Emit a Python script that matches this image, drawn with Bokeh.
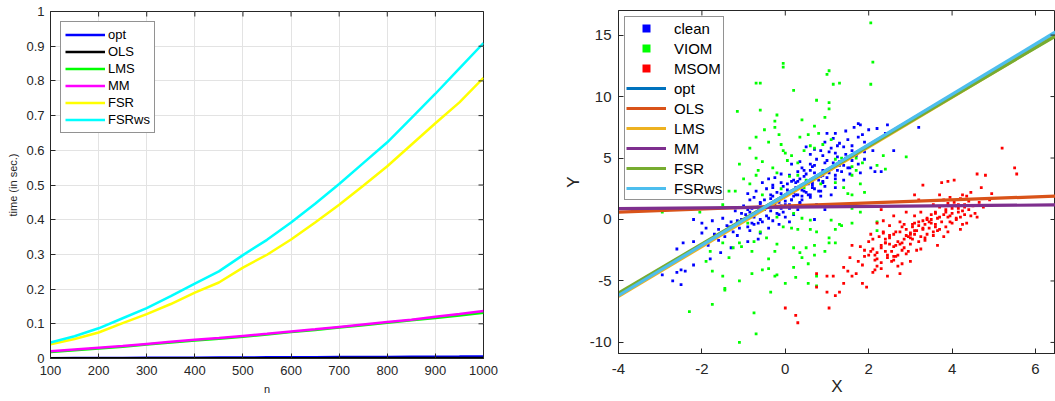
import math
from bokeh.plotting import figure
from bokeh.layouts import row, column
from bokeh.models import FixedTicker, Legend, LegendItem, Range1d
from bokeh.embed import file_html
from bokeh.resources import INLINE

# ---------------- Left chart data (timing) ----------------
n_vals = [100, 150, 200, 250, 300, 350, 400, 450, 500, 550, 600, 650, 700, 750, 800, 850, 900, 950, 1000]
t_opt = [0.001, 0.0013, 0.0015, 0.0018, 0.002, 0.0023, 0.0025, 0.0028, 0.003, 0.0033, 0.0035, 0.0038, 0.004, 0.0043, 0.0046, 0.005, 0.0053, 0.0056, 0.006]
t_ols = [0.0005, 0.0005, 0.0006, 0.0006, 0.0007, 0.0007, 0.0008, 0.0008, 0.0009, 0.0009, 0.001, 0.001, 0.0011, 0.0011, 0.0012, 0.0012, 0.0013, 0.0013, 0.0014]
t_lms = [0.019, 0.024, 0.029, 0.034, 0.040, 0.046, 0.052, 0.057, 0.063, 0.069, 0.076, 0.082, 0.089, 0.096, 0.103, 0.110, 0.117, 0.124, 0.132]
t_mm = [0.021, 0.026, 0.031, 0.036, 0.042, 0.048, 0.054, 0.059, 0.065, 0.071, 0.078, 0.084, 0.091, 0.098, 0.105, 0.112, 0.120, 0.128, 0.137]
t_fsr = [0.041, 0.056, 0.075, 0.102, 0.128, 0.157, 0.190, 0.219, 0.262, 0.299, 0.343, 0.392, 0.443, 0.498, 0.554, 0.616, 0.678, 0.738, 0.809]
t_fsrws = [0.046, 0.064, 0.087, 0.116, 0.145, 0.180, 0.216, 0.251, 0.298, 0.342, 0.392, 0.446, 0.503, 0.563, 0.623, 0.693, 0.763, 0.836, 0.909]
left_names = ["opt", "OLS", "LMS", "MM", "FSR", "FSRws"]
left_colors = ["#0000ff", "#000000", "#00ff00", "#ff00ff", "#ffff00", "#00ffff"]
left_x_ticks = [100, 200, 300, 400, 500, 600, 700, 800, 900, 1000]
left_y_ticks = [0.0, 0.1, 0.2, 0.3, 0.4, 0.5, 0.6, 0.7, 0.8, 0.9, 1.0]
left_y_tick_labels = ["0", "0.1", "0.2", "0.3", "0.4", "0.5", "0.6", "0.7", "0.8", "0.9", "1"]

# ---------------- Right chart data (scatter + fits) ----------------
clean_x = [1.75, 1.8, 1.65, 2.2, 2.0, 2.45, 3.2, 2.6, 2.4, 1.45, 1.2, 1.0, 0.95, 1.15, 1.3, 1.5, 1.75, 1.85, 1.9, 2.0,
           1.6, 1.4, 1.1, 0.85, 0.7, 0.6, 0.5, 0.35, 0.15, 0.4, 0.6, 0.75, 0.9, 1.0, 1.15, 1.25, 1.3, 1.45, 1.6, 1.75,
           1.9, 2.05, 2.15, 1.8, 1.55, 1.35, 1.1, 0.9, 0.7, 0.5, 0.3, 0.1, -0.1, -0.25, -0.4, -0.55, -0.3, -0.1, 0.15, 0.35,
           0.55, 0.8, 1.0, 1.2, 1.4, 0.95, 0.7, 0.45, 0.25, 0.05, -0.2, -0.45, -0.7, -0.9, -0.75, -0.5, -0.3, -0.05, 0.2, 0.4,
           0.6, 0.85, 1.1, 0.75, 0.5, 0.3, 0.1, -0.1, -0.35, -0.6, -0.8, -1.0, -1.2, -0.95, -0.7, -0.45, -0.2, 0.0, 0.2, -0.3,
           -0.55, -0.8, -1.05, -1.3, -1.5, -1.75, -2.0, -2.2, -1.9, -1.6, -1.35, -1.1, -0.85, -0.6, -0.4, -0.15, -0.65, -0.9, -1.15, -1.45,
           -1.7, -2.0, -2.2, -2.45, -1.85, -1.3, -1.55, -2.6, -2.45, -1.8, -2.5, -2.4, -2.6, -2.2, -2.95, -2.7, -2.5, 1.25, 0.4, 0.95,
           0.7, 0.1, -0.05, 0.55, 0.3, -0.15, 1.9, 2.1, 0.6, 1.6, 0.05, 0.25, 0.45, 0.65, 0.85, 1.05, 0.35, 0.15, -0.35, -0.65,
           -0.85, -1.05, 0.2, 0.55, 0.8, 1.3, 1.55, 1.7, 0.9, 1.2, -0.2, 0.0, -0.5, -0.75, -1.25, -1.6, 2.3, 1.05, 0.3, 0.65,
           -0.9, -0.6, -0.35, -0.1, 0.15, 0.4, 0.65, 0.9, 1.15, 1.4, -0.75, -0.5, -0.25, 0.0, 0.25, 0.5, 0.75, 1.0, 1.25, 1.5,
           -1.1, -0.85, -0.6, -0.35, -0.1, 0.15, 0.4, 0.65, 0.9, 1.2, -0.3, -0.05, 0.2, 0.45, 0.7, 0.95, 1.2, 1.45, 1.7, 1.95,
           -1.4, -1.15, -0.9, -0.65, -0.4, -0.15, 0.1, 0.35, 0.6, 0.85]
clean_y = [7.8, 7.7, 7.5, 7.4, 7.3, 7.7, 7.5, 5.6, 7.0, 7.2, 7.0, 7.0, 6.3, 6.6, 6.2, 6.5, 6.7, 6.9, 6.3, 6.0,
           6.0, 5.9, 5.8, 5.6, 5.7, 5.3, 5.9, 4.7, 4.5, 4.2, 4.5, 4.9, 5.2, 4.8, 4.6, 5.1, 4.7, 5.3, 4.8, 4.5,
           4.9, 4.2, 3.9, 3.8, 3.7, 3.9, 4.1, 4.0, 3.8, 3.7, 3.9, 3.6, 3.7, 3.4, 3.3, 3.0, 2.8, 3.0, 3.1, 3.3,
           3.1, 3.2, 3.4, 3.6, 3.2, 2.7, 2.5, 2.3, 2.6, 2.4, 2.2, 2.5, 2.3, 2.1, 1.8, 1.6, 1.9, 1.8, 1.9, 1.6,
           1.8, 1.9, 2.0, 1.2, 1.1, 0.8, 1.2, 0.9, 1.1, 1.3, 0.9, 1.1, 0.7, 0.4, 0.5, 0.3, 0.5, 0.2, 0.4, -0.1,
           -0.2, -0.3, 0.0, -0.2, 0.1, -0.1, -0.3, 0.0, -0.7, -0.8, -0.6, -0.7, -0.9, -1.1, -0.7, -0.4, -1.6, -1.8, -1.3, -1.4,
           -1.2, -1.1, -1.8, -1.9, -2.1, -2.3, -2.7, -2.4, -3.0, -3.2, -4.1, -4.2, -4.3, -3.7, -4.5, -5.0, -5.3, 6.0, 1.9, 0.8,
           0.0, -0.2, 0.6, 2.9, 2.0, 1.4, 5.5, 5.6, 4.0, 5.6, 2.9, 3.0, 4.0, 4.3, 3.5, 5.5, 1.4, 1.6, 2.0, 1.0,
           1.6, 0.5, 2.2, 2.0, 2.3, 4.4, 4.2, 5.3, 3.0, 2.6, 1.0, 1.2, 0.8, -0.4, -1.0, -1.7, 3.9, 3.8, 3.1, 2.8,
           0.8, 1.4, 1.7, 2.1, 2.3, 2.8, 3.0, 3.6, 4.3, 4.4, 0.2, 0.9, 1.3, 1.5, 2.0, 2.2, 3.4, 3.9, 4.0, 4.2,
           -0.3, 0.6, 0.0, 0.7, 1.1, 1.6, 2.4, 2.6, 3.1, 3.3, 2.6, 2.7, 3.2, 3.5, 4.4, 4.6, 5.4, 5.0, 5.2, 5.9,
           -0.5, -0.1, -0.6, -0.3, 0.1, 0.4, 0.9, 1.3, 2.0, 2.3]

viom_x = [2.05, 2.1, 2.05, -0.05, -0.05, -0.7, -0.6, 1.05, 1.0, 1.15, 1.3, 0.2, -1.15, -0.6, 0.75, 1.05, 1.05, 0.95, -0.2, -0.25,
          0.4, -0.5, -0.25, 0.7, -0.15, -0.7, 0.35, 0.55, 0.8, 1.1, -0.4, -0.1, 0.6, -0.85, -0.05, 0.0, 0.15, 0.45, 0.7, -0.7,
          -0.55, -1.1, 0.05, 0.3, 1.2, 1.35, 1.5, 1.6, 1.7, 2.2, 2.35, 2.9, -0.65, -0.7, -0.2, 0.1, 0.3, 1.6, 1.7, 1.2,
          1.8, 0.85, 0.45, -0.85, -1.35, -1.2, -0.1, -0.55, 1.9, 1.5, 1.6, -1.5, -1.9, -2.05, -2.95, -0.7, -0.2, 0.2, 0.4, 0.6,
          1.1, 1.3, 1.2, 0.15, 0.3, 0.6, 0.75, -0.05, -0.6, -1.5, -1.1, -1.05, -0.75, -0.45, -0.2, 0.2, 0.5, 0.7, 0.95, 1.05,
          1.2, 0.4, 0.55, 0.7, -0.25, -0.4, -0.8, -1.35, -1.25, -1.8, -1.9, -0.4, -0.55, -0.8, -1.75, -0.25, -0.2, -1.5, -1.45, -1.45,
          0.0, 0.2, 0.25, 0.75, 0.75, 0.55, -0.35, -1.1, -0.75, -1.75, -2.3, -1.1, -0.7, 1.05, 1.35, 2.2, 2.2, 1.6, 1.8, 1.6,
          -1.0, -0.3, 0.9, 1.4, -0.9, 0.5, 1.85, 2.4, -1.6, 0.35]
viom_y = [16.0, 12.8, 11.0, 12.7, 12.4, 11.1, 11.1, 12.1, 11.8, 11.0, 11.1, 10.5, 8.8, 8.9, 9.7, 9.5, 9.0, 8.3, 8.5, 8.0,
          8.1, 7.3, 7.5, 7.6, 6.9, 6.7, 6.7, 6.9, 7.0, 6.5, 6.3, 6.1, 6.0, 5.8, 5.6, 5.4, 5.2, 5.6, 5.8, 5.0,
          4.7, 4.5, 4.8, 4.6, 4.9, 5.0, 5.1, 4.3, 5.0, 4.4, 5.2, 5.1, 4.0, 3.6, 3.8, 3.5, 3.6, 3.6, 4.0, 3.0,
          2.9, 2.9, 2.6, 2.9, 2.3, 2.3, 2.5, 2.0, 2.2, 2.1, 2.0, 1.2, 0.9, 0.6, 0.6, 0.5, 0.2, 0.5, 0.1, -0.05,
          -0.05, -0.4, -0.8, -0.7, -0.8, -0.8, -1.0, -0.6, -1.0, -1.9, -1.9, -2.2, -1.8, -1.5, -2.0, -2.3, -2.3, -2.1, -2.6, -1.9,
          -1.9, -3.1, -3.6, -2.9, -2.6, -3.2, -2.6, -3.1, -2.3, -2.6, -3.4, -4.0, -4.1, -4.4, -4.2, -4.6, -4.5, -4.6, -5.6, -5.75,
          -5.2, -3.9, -4.7, -4.6, -5.4, -5.2, -5.9, -5.0, -7.6, -6.9, -7.5, -10.0, -9.3, -1.5, -0.5, -0.2, -0.9, -0.3, 0.6, 0.9,
          3.3, 4.2, 6.1, 2.6, -0.3, 3.2, 4.6, 4.1, 1.9, -2.7]

msom_x = [0.75, 0.75, 1.0, 1.05, 1.0, 1.15, 1.2, 1.3, 0.0, 0.25, 0.3, 1.4, 1.5, 1.6, 1.7, 1.85, 1.95, 1.4, 1.6, 1.8,
          1.9, 2.0, 2.1, 2.25, 2.2, 2.3, 2.4, 2.45, 2.1, 2.2, 2.35, 2.5, 2.5, 2.6, 2.7, 2.75, 2.8, 2.85, 2.9, 3.0,
          3.0, 2.85, 3.1, 3.1, 3.2, 3.25, 3.35, 3.4, 3.5, 3.55, 3.6, 3.65, 3.7, 3.8, 3.85, 3.9, 4.0, 4.05, 4.1, 4.2,
          4.25, 4.3, 4.35, 4.4, 4.5, 4.6, 4.65, 4.7, 4.8, 4.9, 4.95, 4.75, 3.9, 4.05, 3.3, 3.1, 3.7, 4.6, 5.2, 5.5,
          5.55, 3.75, 3.2, 2.6, 2.9, 2.3, 2.05, 2.15, 2.3, 2.4, 2.55, 2.65, 2.75, 2.95, 3.05, 3.15, 3.3, 3.45, 3.6, 3.75,
          3.95, 4.15, 4.25, 2.2, 2.45, 2.6, 2.7, 2.85, 3.0, 3.2, 3.35, 3.5, 3.65, 3.85, 4.0, 4.2, 4.4, 2.0, 2.3, 2.55,
          2.8, 3.05, 3.25, 3.45, 3.7, 3.95, 4.15, 4.45, 4.55, 1.75, 2.05, 2.4, 2.65, 2.9, 3.1, 3.4, 3.6, 3.8, 4.1, 4.3,
          2.5, 2.75, 3.0, 3.3, 3.55, 1.55, 1.85, 2.15, 2.35, 2.6, 2.8, 3.15, 3.9, 4.35,
          2.1, 2.3, 2.5, 2.7, 2.9, 3.1, 3.3, 3.5, 3.7, 3.9, 4.1, 4.3, 2.2, 2.4, 2.6, 2.8, 3.0, 3.2, 3.4, 3.6,
          3.8, 4.0, 4.2, 1.9, 2.15, 2.45, 2.75, 3.05, 3.35, 3.65, 3.95, 4.25, 2.35, 2.65, 2.95, 3.25, 3.55, 3.85, 4.15, 4.45]
msom_y = [-5.5, -4.4, -5.9, -7.2, -4.6, -4.6, -6.2, -5.9, -7.2, -7.8, -8.4, -5.2, -4.2, -4.6, -4.4, -5.2, -5.5, -3.9, -2.1, -2.2,
          -3.0, -1.8, -2.4, -1.4, -3.2, -3.5, -2.6, -4.6, -4.3, -0.3, -0.1, -1.3, -2.0, -3.0, -3.8, -4.4, -2.5, -1.6, -0.8, -2.0,
          -3.4, -0.4, 0.3, -1.2, -1.8, 0.6, -0.4, -1.2, 0.0, -1.0, -0.4, -2.1, 0.2, 1.6, -0.6, -1.0, 0.5, 1.4, 0.1, -0.8,
          2.0, 1.2, -0.3, 0.8, 1.1, 0.2, 1.4, 2.6, 3.6, 1.6, 2.1, 1.0, 3.1, 3.2, 2.8, 2.0, 2.0, 3.7, 5.8, 4.2,
          3.7, 3.0, 1.6, 0.3, 0.6, 0.8, -1.2, -2.9, -2.1, -1.6, -2.6, -2.1, -1.0, -1.4, -0.6, -0.9, -0.1, -0.7, 0.6, -0.2,
          0.3, 0.9, -0.4, -3.8, -3.1, -1.2, -2.9, -2.3, -1.1, -0.5, -1.5, 0.4, -0.9, 0.8, -0.3, 1.7, 1.5, -2.9, -4.0, -3.4,
          -1.9, -1.6, -2.4, -0.2, 1.0, 1.8, 0.6, 2.2, 0.5, -3.4, -2.6, -1.9, -1.0, -2.8, -0.3, 0.0, 0.5, -1.4, 1.1, 0.4,
          -0.5, -0.2, -1.2, -0.8, 1.2, -3.1, -3.7, -4.1, -1.0, -3.3, -3.6, -2.5, 1.3, 1.9,
          -1.6, -2.3, -1.5, -1.8, -1.3, -0.9, -0.7, -0.3, -0.8, 0.2, 0.0, 1.0, -2.7, -1.9, -2.2, -0.6, -1.5, -0.2, 0.1, -0.6,
          0.4, 0.9, 0.2, -2.5, -3.3, -2.9, -2.0, -0.4, -1.7, 0.1, -0.2, 0.7, -1.1, -3.0, -2.6, -1.4, -1.3, 0.6, 1.2, 0.3]

right_names = ["opt", "OLS", "LMS", "MM", "FSR", "FSRws"]
right_colors = ["#0072BD", "#D95319", "#EDB120", "#7E2F8E", "#77AC30", "#4DBEEE"]
right_slopes = [2.025, 0.124, 2.025, 0.029, 1.995, 2.045]
right_intercepts = [2.0, 1.1, 1.85, 1.0, 2.0, 2.0]
right_x_ticks = [-4, -2, 0, 2, 4, 6]
right_x_tick_labels = ["-4", "-2", "0", "2", "4", "6"]
right_y_ticks = [-10, -5, 0, 5, 10, 15]
right_y_tick_labels = ["-10", "-5", "0", "5", "10", "15"]

FONT = "Liberation Sans"
AX = "#262626"


def style_axis(ax, size):
    ax.axis_line_color = AX
    ax.major_tick_line_color = AX
    ax.minor_tick_line_color = None
    ax.major_tick_in = 5
    ax.major_tick_out = 0
    ax.major_label_text_font = FONT
    ax.major_label_text_color = AX
    ax.major_label_text_font_size = size
    ax.axis_label_text_font = FONT
    ax.axis_label_text_font_style = "normal"
    ax.axis_label_text_color = AX


def box_ticks(p, xticks, yticks, xr, yr):
    # inward tick marks on the top and right sides of the box (clipped to frame)
    p.scatter(xticks, [yr.end] * len(xticks), marker="dash", size=10, angle=math.pi / 2,
              line_color=AX, line_width=1)
    p.scatter([xr.end] * len(yticks), yticks, marker="dash", size=10,
              line_color=AX, line_width=1)


# ---------------- Left figure ----------------
xr1 = Range1d(100, 1000)
yr1 = Range1d(0, 1)
p1 = figure(width=528, height=401, output_backend="svg", toolbar_location=None,
            x_range=xr1, y_range=yr1,
            min_border_left=50, min_border_right=45, min_border_top=11, min_border_bottom=43)
p1.outline_line_color = AX
p1.xgrid.grid_line_color = "#e3e3e3"
p1.ygrid.grid_line_color = "#e3e3e3"
p1.xaxis.ticker = FixedTicker(ticks=left_x_ticks)
p1.yaxis.ticker = FixedTicker(ticks=left_y_ticks)
p1.yaxis.major_label_overrides = {t: l for t, l in zip(left_y_ticks, left_y_tick_labels)}
p1.xaxis.axis_label = "n"
p1.yaxis.axis_label = "time (in sec.)"
for ax in p1.xaxis + p1.yaxis:
    style_axis(ax, "13px")
    ax.axis_label_text_font_size = "11px"
p1.xaxis.major_label_standoff = 7
p1.xaxis.axis_label_standoff = 5
p1.yaxis.major_label_standoff = 6
p1.yaxis.axis_label_standoff = 4

series = [t_opt, t_ols, t_lms, t_mm, t_fsr, t_fsrws]
items1 = []
for name, col, ys in zip(left_names, left_colors, series):
    r = p1.line(n_vals, ys, line_color=col, line_width=2.5)
    items1.append(LegendItem(label=name, renderers=[r]))
box_ticks(p1, left_x_ticks, left_y_ticks, xr1, yr1)
leg1 = Legend(items=items1, location="top_left", margin=10, padding=4, spacing=0,
              label_text_font=FONT, label_text_font_size="13px", label_text_color="#000000",
              label_height=17, glyph_height=17, glyph_width=40, label_standoff=3,
              border_line_color=AX, background_fill_alpha=1.0)
p1.add_layout(leg1)

# ---------------- Right figure ----------------
xr2 = Range1d(-4, 6.48)
yr2 = Range1d(-10.9, 17.0)
p2 = figure(width=527, height=401, output_backend="svg", toolbar_location=None,
            x_range=xr2, y_range=yr2,
            min_border_left=90, min_border_right=0, min_border_top=10, min_border_bottom=48)
p2.outline_line_color = AX
p2.xgrid.grid_line_color = None
p2.ygrid.grid_line_color = None
p2.xaxis.ticker = FixedTicker(ticks=right_x_ticks)
p2.yaxis.ticker = FixedTicker(ticks=right_y_ticks)
p2.xaxis.major_label_overrides = {t: l for t, l in zip(right_x_ticks, right_x_tick_labels)}
p2.yaxis.major_label_overrides = {t: l for t, l in zip(right_y_ticks, right_y_tick_labels)}
p2.xaxis.axis_label = "X"
p2.yaxis.axis_label = "Y"
for ax in p2.xaxis + p2.yaxis:
    style_axis(ax, "15px")
    ax.axis_label_text_font_size = "17px"
p2.xaxis.major_label_standoff = 10
p2.xaxis.axis_label_standoff = 0
p2.yaxis.major_label_standoff = 7
p2.yaxis.axis_label_standoff = 4

items2 = []
for name, col, xs, ys in (("clean", "#0000ff", clean_x, clean_y),
                          ("VIOM", "#00ff00", viom_x, viom_y),
                          ("MSOM", "#ff0000", msom_x, msom_y)):
    r = p2.scatter(xs, ys, size=2.8, marker="square", fill_color=col, line_color=None)
    items2.append(LegendItem(label=name, renderers=[r]))

line_x = [xr2.start, xr2.end]
for name, col, m, b in zip(right_names, right_colors, right_slopes, right_intercepts):
    ys = [m * x + b for x in line_x]
    r = p2.line(line_x, ys, line_color=col, line_width=3.2)
    items2.append(LegendItem(label=name, renderers=[r]))
box_ticks(p2, right_x_ticks, right_y_ticks, xr2, yr2)

leg2 = Legend(items=items2, location="top_left", margin=6, padding=1, spacing=0,
              label_text_font=FONT, label_text_font_size="15px", label_text_color="#000000",
              label_height=20, glyph_height=20, glyph_width=40, label_standoff=8,
              border_line_color=AX, background_fill_alpha=1.0)
p2.add_layout(leg2)

layout = row(column(p1), column(p2))
open("out.html", "w").write(file_html(layout, INLINE))
